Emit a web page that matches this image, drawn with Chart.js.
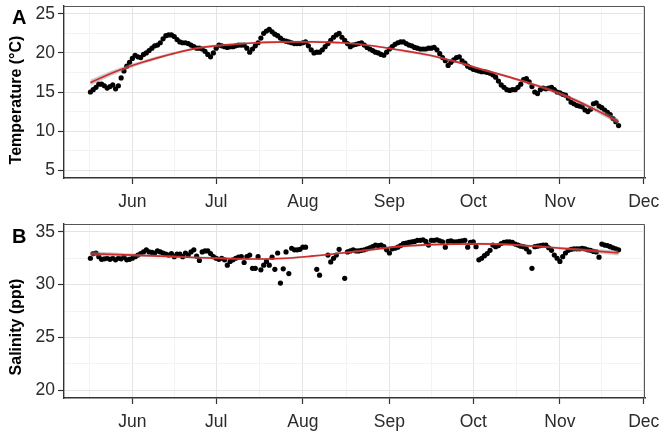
<!DOCTYPE html>
<html>
<head>
<meta charset="utf-8">
<script src="https://cdn.jsdelivr.net/npm/chart.js@4.4.1/dist/chart.umd.min.js"></script>
<style>
  body { margin: 0; background: #fff; }
  #wrap { position: relative; width: 662px; height: 431px; }
  canvas { position: absolute; left: 0; }
</style>
</head>
<body>
<div id="wrap">
  <canvas id="tempChart" width="662" height="215" style="top:0"></canvas>
  <canvas id="salChart" width="662" height="216" style="top:215px"></canvas>
</div>
<script>
// daily means, first reading on 17 May
var firstDay = new Date(2017, 4, 17);
var monthLabels = ['Jun', 'Jul', 'Aug', 'Sep', 'Oct', 'Nov', 'Dec'];
var tempTicks = [5, 10, 15, 20, 25];
var salTicks = [20, 25, 30, 35];

var temperature = [
  15.0,15.3,15.6,16.0,16.0,15.8,15.5,15.7,15.9,15.4,
  15.8,16.8,17.7,18.3,18.8,19.3,19.7,19.5,19.4,19.8,
  20.0,20.3,20.6,20.9,21.0,21.3,21.8,22.2,22.3,22.3,
  22.1,21.7,21.4,21.3,21.3,21.2,21.0,20.8,20.6,20.6,
  20.5,20.2,19.8,19.5,20.0,20.6,21.0,20.9,20.8,20.7,
  20.8,20.8,20.9,21.0,21.0,21.0,20.6,20.1,20.5,20.9,
  21.3,21.9,22.5,22.8,23.0,22.7,22.4,22.2,21.9,21.6,
  21.5,21.4,21.3,21.2,21.2,21.2,21.3,21.4,20.9,20.4,
  20.0,20.1,20.1,20.4,20.8,21.2,21.6,22.0,22.3,22.5,
  22.0,21.6,21.2,20.8,21.0,21.1,21.2,21.3,21.0,20.7,
  20.5,20.3,20.1,20.0,19.8,19.7,20.1,20.5,20.8,21.1,
  21.3,21.4,21.4,21.2,21.0,20.9,20.7,20.6,20.5,20.5,
  20.5,20.6,20.6,20.7,20.4,19.9,19.4,19.0,18.4,18.8,
  19.1,19.4,19.5,19.0,18.7,18.3,18.1,17.9,17.8,17.7,
  17.6,17.6,17.5,17.4,17.2,16.9,16.4,15.9,15.6,15.3,
  15.2,15.3,15.3,15.6,16.0,16.6,16.7,16.3,15.7,15.0,
  14.8,15.3,15.5,15.4,15.5,15.6,15.3,15.0,14.9,14.7,
  14.6,14.2,13.7,13.5,13.3,13.2,13.1,12.7,12.5,12.8,
  13.5,13.6,13.2,13.0,12.7,12.4,12.1,11.6,11.2,10.7
];

var salinity = [
  32.5,32.95,33.0,32.65,32.4,32.45,32.5,32.4,32.5,32.35,
  32.5,32.45,32.6,32.35,32.4,32.5,32.65,32.8,32.95,33.1,
  33.3,33.1,33.05,33.0,33.2,33.1,33.0,32.9,32.8,32.95,
  32.65,32.9,32.9,32.65,33.0,32.8,33.1,33.3,32.7,32.3,
  33.1,33.2,33.2,32.95,32.65,32.5,32.4,32.5,32.35,31.85,
  32.2,32.35,32.5,32.6,32.65,32.1,32.65,32.8,31.55,31.55,
  32.65,31.4,31.85,32.2,31.85,32.6,31.45,33.0,30.15,31.5,
  33.1,31.05,33.45,33.3,33.3,33.35,33.55,33.55,null,null,
  null,31.45,30.9,null,null,32.8,32.15,32.5,32.8,33.35,
  null,30.6,33.1,33.2,33.3,33.2,33.2,33.25,33.3,33.4,
  33.5,33.6,33.75,33.7,33.75,33.6,33.3,33.0,33.4,33.45,
  33.55,33.7,33.9,33.95,34.0,34.05,34.1,34.2,34.2,34.25,
  34.1,33.75,34.2,34.2,34.25,34.15,34.05,33.55,34.1,34.15,
  34.05,34.05,34.1,34.15,34.2,33.55,34.0,34.05,33.6,32.35,
  32.5,32.75,32.95,33.25,33.75,33.6,33.7,33.9,34.0,34.05,
  34.05,34.0,33.85,33.75,33.65,33.6,33.4,33.1,31.55,33.6,
  33.65,33.7,33.75,33.75,33.5,33.25,32.8,32.5,32.2,32.65,
  33.0,33.25,33.35,33.4,33.4,33.4,33.45,33.4,33.3,33.25,
  33.15,33.1,32.6,33.85,33.75,33.7,33.6,33.5,33.4,33.3
];

// smoothed trend (day index from first reading) with its standard error band
var fitDays = [0,10,20,30,40,50,60,70,80,90,100,110,120,130,140,150,160,170,180,189];
var tempFit = [16.2,17.75,18.95,19.95,20.7,21.05,21.3,21.4,21.4,21.3,20.95,20.4,19.8,18.95,17.9,16.9,15.8,14.5,12.85,11.2];
var tempSe = [0.4,0.3,0.22,0.17,0.15,0.14,0.14,0.14,0.14,0.14,0.14,0.14,0.15,0.15,0.15,0.16,0.18,0.22,0.28,0.38];
var salFit = [32.95,32.85,32.75,32.65,32.55,32.47,32.43,32.5,32.72,33.0,33.3,33.6,33.77,33.85,33.87,33.8,33.62,33.42,33.2,33.0];
var salSe = [0.25,0.18,0.14,0.12,0.11,0.1,0.1,0.1,0.1,0.1,0.1,0.1,0.1,0.1,0.1,0.1,0.11,0.13,0.17,0.24];

var DAY = 86400000;
var june1 = new Date(2017, 5, 1);
function dayNo(d) { return Math.round((d - june1) / DAY); }
var day0 = dayNo(firstDay);

function toPoints(values) {
  var pts = [];
  for (var i = 0; i < values.length; i++) {
    if (values[i] !== null) pts.push({ x: day0 + i, y: values[i] });
  }
  return pts;
}
function trend(fit, se, k) {
  return fitDays.map(function (d, i) { return { x: day0 + d, y: fit[i] + k * se[i] }; });
}

// x range padded by 5% like ggplot
var xLo = day0, xHi = day0 + temperature.length - 1;
var xPad = (xHi - xLo) * 0.05;

// month breaks, with minor lines half way between them
var xTicks = [];
var prevStart = dayNo(new Date(2017, 4, 1));
monthLabels.forEach(function (m, k) {
  var start = dayNo(new Date(2017, 5 + k, 1));
  xTicks.push({ value: (prevStart + start) / 2, minor: true });
  xTicks.push({ value: start, label: m });
  prevStart = start;
});
xTicks = xTicks.filter(function (t) { return t.value >= xLo - xPad && t.value <= xHi + xPad; });

function yTickList(major) {
  var list = [];
  major.forEach(function (v, i) {
    if (i > 0) list.push({ value: (major[i - 1] + v) / 2, minor: true });
    list.push({ value: v, label: String(v) });
  });
  return list;
}

var tickFont = { family: '"Liberation Sans", Arial, sans-serif', size: 17.5 };

function gridOpts() {
  return {
    color: function (c) { return c.tick && c.tick.minor ? '#f3f3f3' : '#e4e4e4'; },
    lineWidth: 1,
    tickLength: 6,
    tickWidth: 1.2,
    tickColor: function (c) { return c.tick && c.tick.minor ? 'rgba(0,0,0,0)' : '#333'; }
  };
}

// panel frame, panel letter and rotated y title
var panelDecor = {
  id: 'panelDecor',
  afterDraw: function (chart, args, o) {
    var ctx = chart.ctx, a = chart.chartArea;
    ctx.save();
    ctx.strokeStyle = '#555';
    ctx.lineWidth = 1;
    ctx.beginPath();
    ctx.moveTo(a.left, a.top + 0.5);
    ctx.lineTo(a.right - 0.5, a.top + 0.5);
    ctx.lineTo(a.right - 0.5, a.bottom);
    ctx.stroke();
    ctx.fillStyle = '#000';
    ctx.font = 'bold 20px "Liberation Sans", Arial, sans-serif';
    ctx.textAlign = 'left';
    ctx.textBaseline = 'alphabetic';
    ctx.fillText(o.letter, 12, o.letterY);
    ctx.translate(21, o.titleY);
    ctx.rotate(-Math.PI / 2);
    ctx.font = 'bold 16px "Liberation Sans", Arial, sans-serif';
    ctx.textAlign = 'center';
    ctx.fillText(o.title, 0, 0);
    ctx.restore();
  }
};

function drawPanel(id, p) {
  var yList = yTickList(p.ticks);
  var yPad = (p.ticks[p.ticks.length - 1] - p.ticks[0]) * 0.05;
  return new Chart(document.getElementById(id), {
    type: 'line',
    data: {
      datasets: [
        { data: trend(p.fit, p.se, 0), borderColor: '#d22b2b', borderWidth: 1.7, pointRadius: 0, tension: 0.4, fill: false, order: 0 },
        { data: trend(p.fit, p.se, 1), borderWidth: 0, pointRadius: 0, tension: 0.4, fill: '+1', backgroundColor: 'rgba(140,140,140,0.45)', order: 1 },
        { data: trend(p.fit, p.se, -1), borderWidth: 0, pointRadius: 0, tension: 0.4, fill: false, order: 1 },
        { data: toPoints(p.values), showLine: false, pointRadius: 2.6, pointBackgroundColor: '#000', pointBorderWidth: 0, order: 2 }
      ]
    },
    options: {
      responsive: false,
      devicePixelRatio: 1,
      animation: false,
      events: [],
      layout: { padding: { top: p.top, right: 17, left: 0, bottom: 0 } },
      plugins: {
        legend: { display: false },
        tooltip: { enabled: false },
        panelDecor: { letter: p.letter, letterY: p.letterY, title: p.title, titleY: p.titleY }
      },
      scales: {
        x: {
          type: 'linear',
          min: xLo - xPad,
          max: xHi + xPad,
          afterBuildTicks: function (s) { s.ticks = xTicks.map(function (t) { return { value: t.value, minor: !!t.minor }; }); },
          afterFit: function (s) { s.height = p.xHeight; s.paddingLeft = 0; s.paddingRight = 0; },
          ticks: {
            autoSkip: false,
            maxRotation: 0,
            padding: 8,
            color: '#2b2b2b',
            font: tickFont,
            callback: function (v, i) { return xTicks[i].label || ''; }
          },
          grid: gridOpts(),
          border: { display: true, color: '#333', width: 1.4 }
        },
        y: {
          min: p.ticks[0] - yPad,
          max: p.ticks[p.ticks.length - 1] + yPad,
          afterBuildTicks: function (s) { s.ticks = yList.map(function (t) { return { value: t.value, minor: !!t.minor }; }); },
          afterFit: function (s) { s.width = 64; s.paddingTop = 0; s.paddingBottom = 0; },
          ticks: {
            autoSkip: false,
            padding: 3,
            color: '#2b2b2b',
            font: tickFont,
            callback: function (v, i) { return yList[i].label || ''; }
          },
          grid: gridOpts(),
          border: { display: true, color: '#333', width: 1.4 }
        }
      }
    },
    plugins: [panelDecor]
  });
}

drawPanel('tempChart', {
  values: temperature, fit: tempFit, se: tempSe, ticks: tempTicks,
  letter: 'A', letterY: 24, title: 'Temperature (°C)', titleY: 100,
  top: 6, xHeight: 37
});

drawPanel('salChart', {
  values: salinity, fit: salFit, se: salSe, ticks: salTicks,
  letter: 'B', letterY: 28, title: 'Salinity (ppt)', titleY: 112,
  top: 9, xHeight: 33
});
</script>
</body>
</html>
